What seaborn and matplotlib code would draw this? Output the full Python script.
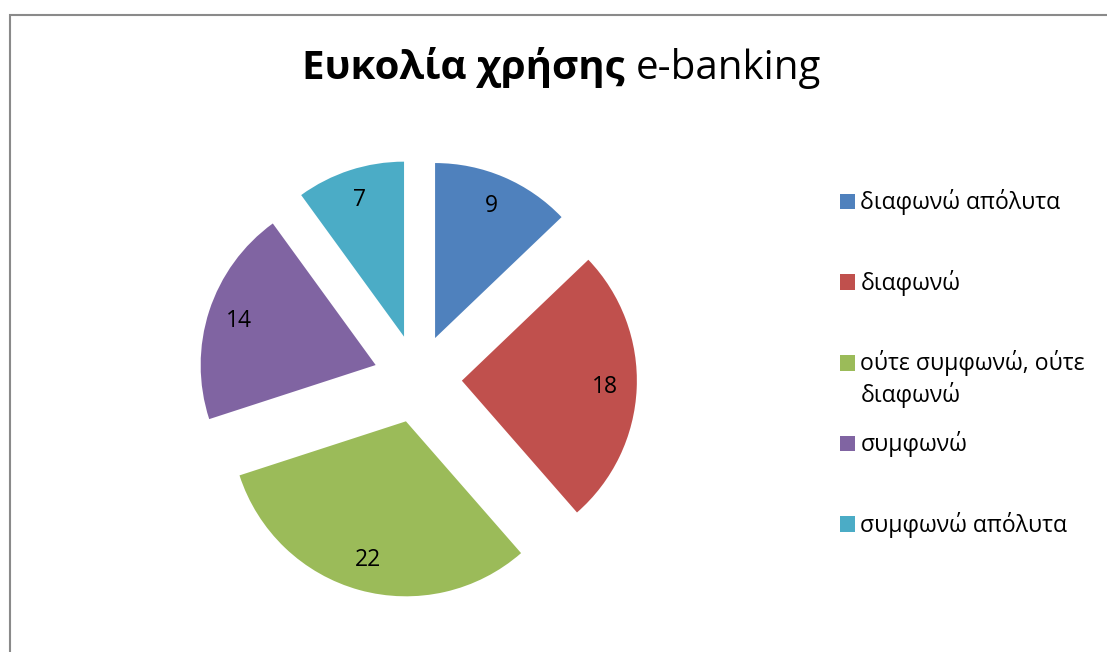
import matplotlib
matplotlib.use("Agg")
import matplotlib.pyplot as plt
from matplotlib.patches import Rectangle
import seaborn as sns

# Survey answers: "ease of use of e-banking"
categories = [
    "διαφωνώ απόλυτα",
    "διαφωνώ",
    "ούτε συμφωνώ, ούτε\nδιαφωνώ",
    "συμφωνώ",
    "συμφωνώ απόλυτα",
]
counts = [9, 18, 22, 14, 7]
colors = ["#4F81BD", "#C0504D", "#9BBB59", "#8064A2", "#4BACC6"]

title_bold = "Ευκολία χρήσης"
title_regular = "e-banking"

sns.set_theme(style="white")
plt.rcParams["font.family"] = ["Open Sans", "DejaVu Sans"]
plt.rcParams["text.color"] = "black"

W, H = 1107, 652
fig = plt.figure(figsize=(W / 100, H / 100), dpi=100)
fig.patch.set_facecolor("white")

# Chart-area frame (runs off the right and bottom edges)
fig.patches.append(Rectangle((10 / W, -0.05), 1.1, (H - 15) / H + 0.05,
                             transform=fig.transFigure, fill=False,
                             edgecolor="#8a8a8a", linewidth=1.5))

# Pie axes: centre at (418, 379) px, radius 175 px
cx, cy, r_px, half = 417.7, 378.7, 175.0, 260.0
ax = fig.add_axes([(cx - half) / W, (H - cy - half) / H, 2 * half / W, 2 * half / H])
lim = half / r_px
ax.set_aspect("equal")
ax.axis("off")

total = sum(counts)
wedges, texts, autotexts = ax.pie(
    counts,
    colors=colors,
    startangle=90,
    counterclock=False,
    explode=[0.2526] * len(counts),
    autopct=lambda p: f"{round(p * total / 100):d}",
    pctdistance=0.82,
    radius=1.0,
    center=(0, 0),
    frame=False,
    textprops=dict(fontsize=16.5, color="black"),
    wedgeprops=dict(linewidth=0),
)
ax.set_xlim(-lim, lim)
ax.set_ylim(-lim, lim)

# Title: bold Greek part followed by regular "e-banking"
renderer = fig.canvas.get_renderer()
base_y = (H - 79.3) / H
t1 = fig.text(0, base_y, title_bold + " ", fontsize=29, fontweight="bold",
              ha="left", va="baseline", color="black")
t2 = fig.text(0, base_y, title_regular, fontsize=29, ha="left", va="baseline",
              color="black")
w1 = t1.get_window_extent(renderer).width
w2 = t2.get_window_extent(renderer).width
x0 = 561.5 - (w1 + w2) / 2
t1.set_x(x0 / W)
t2.set_x((x0 + w1) / W)

# Legend: one square per category, evenly spaced rows
sq = 15.5
legend_fs = 16.6
for i, (lab, col) in enumerate(zip(categories, colors)):
    base = 209.3 + i * 80.6
    fig.patches.append(Rectangle((839.5 / W, (H - base) / H), sq / W, sq / H,
                                 transform=fig.transFigure, facecolor=col,
                                 edgecolor="none"))
    lines = lab.split("\n")
    for j, line in enumerate(lines):
        fig.text(860.5 / W, (H - base - 31.3 * j) / H, line, fontsize=legend_fs,
                 ha="left", va="baseline", color="black")

fig.savefig("out.png", dpi=100)
